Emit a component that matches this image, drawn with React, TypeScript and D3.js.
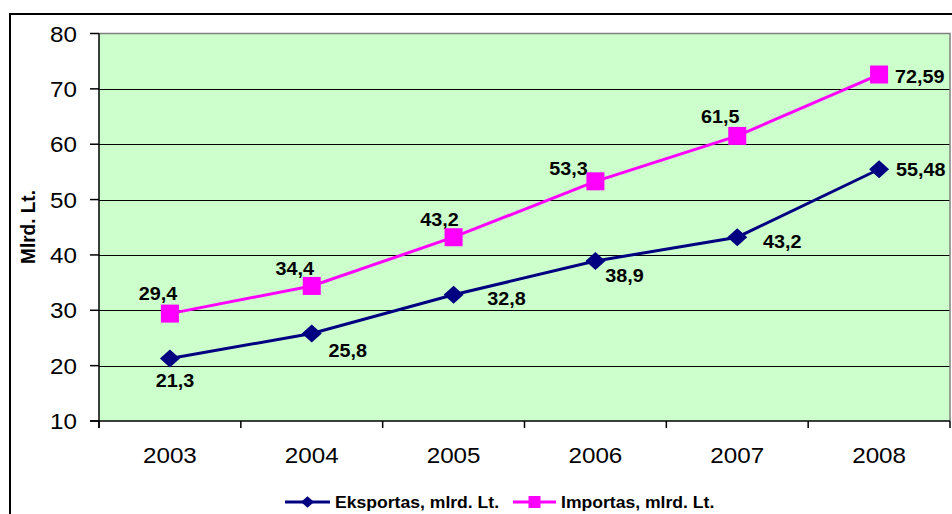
import React, { useRef, useEffect } from 'react'
import * as d3 from 'd3'

const years = ['2003', '2004', '2005', '2006', '2007', '2008']
const eksportas = [21.3, 25.8, 32.8, 38.9, 43.2, 55.48]
const importas = [29.4, 34.4, 43.2, 53.3, 61.5, 72.59]
const yTicks = [10, 20, 30, 40, 50, 60, 70, 80]
const seriesNames = ['Eksportas, mlrd. Lt.', 'Importas, mlrd. Lt.']
const yTitle = 'Mlrd. Lt.'

// hand placed data label offsets (dx, dy, anchor) like the original chart
const impLabelPos: [number, number, string][] = [
	[-12, -14, 'middle'],
	[-17, -11, 'middle'],
	[-14, -11, 'middle'],
	[-27, -6, 'middle'],
	[-17, -13, 'middle'],
	[16, 8, 'start'],
]
const expLabelPos: [number, number, string][] = [
	[5, 29, 'middle'],
	[36, 23, 'middle'],
	[53, 10, 'middle'],
	[29, 21, 'middle'],
	[45, 11, 'middle'],
	[17, 7, 'start'],
]

const FONT = 'Liberation Sans, Arial, Helvetica, sans-serif'
const NAVY = '#000080'
const MAGENTA = '#ff00ff'

const fmt = (v: number) => String(v).replace('.', ',')

const App = () => {
	const svgRef = useRef<SVGSVGElement | null>(null)

	useEffect(() => {
		const root = d3.select(svgRef.current)
		root.selectAll('*').remove()

		const width = 952,
			height = 514
		const plot = { left: 99, right: 950, top: 33.5, bottom: 421 }

		root.attr('width', width).attr('height', height)

		// stretched text, the source image is a little wider than tall
		const stretchText = (
			g: d3.Selection<any, any, any, any>,
			x: number,
			y: number,
			str: string,
			size: number,
			anchor: string,
			bold: boolean
		) =>
			g
				.append('text')
				.attr('transform', `translate(${x},${y}) scale(1.1,1)`)
				.attr('text-anchor', anchor)
				.style('font-family', FONT)
				.style('font-size', size + 'px')
				.style('font-weight', bold ? 'bold' : 'normal')
				.style('fill', '#000')
				.text(str)

		// outer chart border
		root.append('rect')
			.attr('x', 10)
			.attr('y', 14)
			.attr('width', 1000)
			.attr('height', 600)
			.attr('fill', '#fff')
			.attr('stroke', '#000')
			.attr('stroke-width', 2)

		const x = d3
			.scaleBand()
			.domain(years)
			.range([plot.left, plot.right])
		const y = d3.scaleLinear().domain([10, 80]).range([plot.bottom, plot.top])
		const cx = (d: string) => (x(d) as number) + x.bandwidth() / 2

		// plot area
		root.append('rect')
			.attr('x', plot.left)
			.attr('y', plot.top)
			.attr('width', plot.right - plot.left)
			.attr('height', plot.bottom - plot.top)
			.attr('fill', '#ccffcc')

		root.append('g')
			.selectAll('line')
			.data(yTicks.filter((t) => t > 10 && t < 80))
			.join('line')
			.attr('x1', plot.left)
			.attr('x2', plot.right)
			.attr('y1', (d) => Math.round(y(d)) + 0.5)
			.attr('y2', (d) => Math.round(y(d)) + 0.5)
			.attr('stroke', '#000')
			.attr('stroke-width', 1)

		// gray plot border top / right
		root.append('path')
			.attr(
				'd',
				`M${plot.left},${plot.top}H${plot.right}V${plot.bottom}`
			)
			.attr('fill', 'none')
			.attr('stroke', '#808080')
			.attr('stroke-width', 1.5)

		// axes
		const axes = root.append('g').attr('stroke', '#000').attr('stroke-width', 1.5)
		axes.append('line')
			.attr('x1', plot.left)
			.attr('x2', plot.left)
			.attr('y1', plot.top)
			.attr('y2', plot.bottom + 7)
		axes.append('line')
			.attr('x1', plot.left - 9)
			.attr('x2', plot.right)
			.attr('y1', plot.bottom)
			.attr('y2', plot.bottom)
		axes.selectAll('.yt')
			.data(yTicks)
			.join('line')
			.attr('class', 'yt')
			.attr('x1', plot.left - 9)
			.attr('x2', plot.left)
			.attr('y1', (d) => y(d))
			.attr('y2', (d) => y(d))
		const bounds = years.map((d) => x(d) as number).concat([plot.right])
		axes.selectAll('.xt')
			.data(bounds)
			.join('line')
			.attr('class', 'xt')
			.attr('x1', (d) => d)
			.attr('x2', (d) => d)
			.attr('y1', plot.bottom)
			.attr('y2', plot.bottom + 7)

		const labels = root.append('g')
		yTicks.forEach((t) => stretchText(labels, 77, y(t) + 8, String(t), 22, 'end', false))
		years.forEach((yr) => stretchText(labels, cx(yr), 462.5, yr, 22, 'middle', false))

		// y axis title
		root.append('text')
			.attr('transform', `translate(35,227) scale(1.1,1) rotate(-90)`)
			.attr('text-anchor', 'middle')
			.style('font-family', FONT)
			.style('font-size', '19px')
			.style('font-weight', 'bold')
			.text(yTitle)

		const line = d3
			.line<number>()
			.x((_, i) => cx(years[i]))
			.y((d) => y(d))

		const diamond = (s: number) => `M0,${-s * 0.9}L${s},0L0,${s * 0.9}L${-s},0Z`
		const square = (s: number) => `M${-s},${-s}H${s}V${s}H${-s}Z`

		const series = [
			{ values: importas, color: MAGENTA, shape: square(9), pos: impLabelPos },
			{ values: eksportas, color: NAVY, shape: diamond(10), pos: expLabelPos },
		]

		series.forEach((s) => {
			root.append('path')
				.datum(s.values)
				.attr('d', line)
				.attr('fill', 'none')
				.attr('stroke', s.color)
				.attr('stroke-width', 3)
			root.append('g')
				.selectAll('path')
				.data(s.values)
				.join('path')
				.attr('transform', (d, i) => `translate(${cx(years[i])},${y(d)})`)
				.attr('d', s.shape)
				.attr('fill', s.color)
		})

		series.forEach((s) => {
			s.values.forEach((v, i) => {
				const [dx, dy, anchor] = s.pos[i]
				stretchText(labels, cx(years[i]) + dx, y(v) + dy, fmt(v), 18, anchor, true)
			})
		})

		// legend
		const legend = root.append('g')
		const legendItems = [
			{ name: seriesNames[0], color: NAVY, shape: diamond(6.5), x0: 285, x1: 330, tx: 335 },
			{ name: seriesNames[1], color: MAGENTA, shape: square(6), x0: 513, x1: 556, tx: 561 },
		]
		legendItems.forEach((it) => {
			legend.append('line')
				.attr('x1', it.x0)
				.attr('x2', it.x1)
				.attr('y1', 502)
				.attr('y2', 502)
				.attr('stroke', it.color)
				.attr('stroke-width', 3)
			legend.append('path')
				.attr('transform', `translate(${(it.x0 + it.x1) / 2},502)`)
				.attr('d', it.shape)
				.attr('fill', it.color)
			stretchText(legend, it.tx, 508, it.name, 16, 'start', true)
		})
	}, [])

	return (
		<svg
			ref={svgRef}
			style={{ position: 'absolute', left: 0, top: 0, display: 'block' }}
		></svg>
	)
}

export default App
